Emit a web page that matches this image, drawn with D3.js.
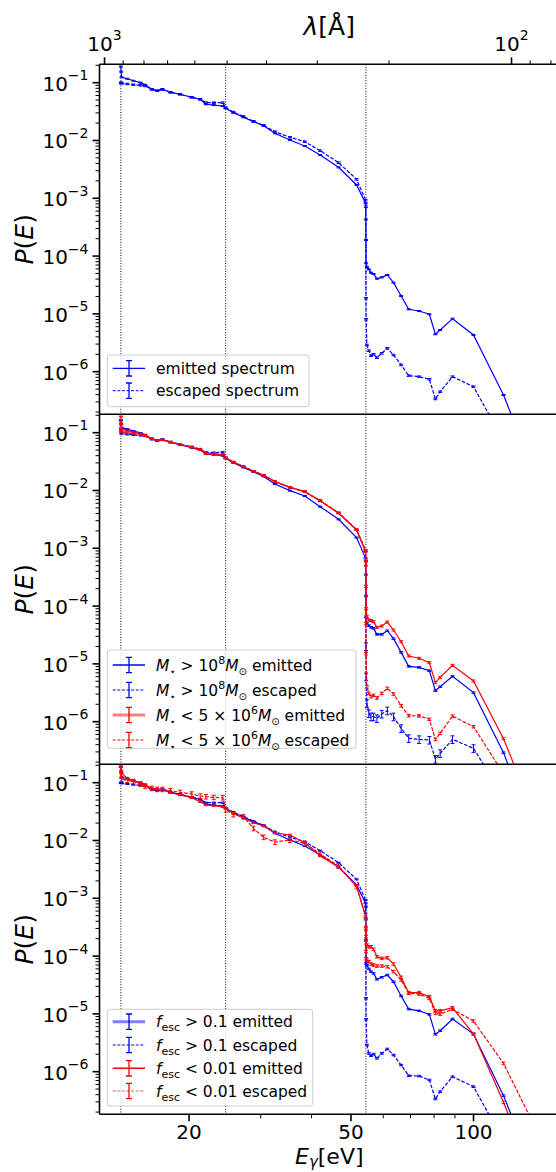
<!DOCTYPE html>
<html><head><meta charset="utf-8">
<script src="https://cdn.jsdelivr.net/npm/d3@7"></script>
<style>
html,body{margin:0;padding:0;background:#fff;}
svg{display:block;font-family:"DejaVu Sans",sans-serif;}
</style></head><body>
<svg id="fig" width="556" height="1172"></svg>
<script>
// Photon energy grid (eV), shared by every spectrum
const energies = [13.6, 13.62, 13.66, 14.1, 14.6, 15.2, 15.6, 16.2, 16.7, 17.2,
  18.0, 19.0, 20.3, 21.3, 22.0, 23.0, 24.2, 24.6, 25.7, 27.2,
  28.8, 30.5, 32.5, 35.4, 38.5, 42.0, 46.6, 51.6, 54.3, 54.38,
  54.42, 54.46, 54.7, 55.3, 56.0, 56.8, 57.9, 59.5, 61.4, 63.6,
  66.4, 69.3, 73.5, 77.9, 80.6, 82.8, 88.8, 100, 118.5, 140];

// Panel 1: all galaxies
const allEmitted = [0.19, 0.155, 0.124, 0.117, 0.108, 0.1, 0.092, 0.0767, 0.0726, 0.0767,
  0.0682, 0.063, 0.0559, 0.0516, 0.0423, 0.041, 0.0395, 0.036, 0.0303, 0.0252,
  0.0211, 0.018, 0.0133, 0.0102, 0.00803, 0.00561, 0.00343, 0.0017, 8.2e-4, 4.3e-4,
  1.9e-4, 7.5e-5, 6.5e-5, 5.9e-5, 5.16e-5, 4.9e-5, 4.06e-5, 4.29e-5, 4.71e-5, 3.47e-5,
  2.04e-5, 1.2e-5, 1.12e-5, 9.84e-6, 4.44e-6, 5.26e-6, 8.26e-6, 4.32e-6, 3.95e-7, 2e-8];
const allEscaped = [0.1, 0.0985, 0.0975, 0.095, 0.0923, 0.09, 0.0877, 0.0767, 0.0726, 0.0767,
  0.0682, 0.063, 0.0559, 0.0516, 0.0451, 0.0451, 0.0451, 0.037, 0.031, 0.026,
  0.0215, 0.0183, 0.0142, 0.01135, 0.00953, 0.00666, 0.00413, 0.00213, 9.3e-4, 7.15e-4,
  1.86e-5, 8.05e-6, 2.9e-6, 2.31e-6, 1.89e-6, 2.0e-6, 1.75e-6, 2.08e-6, 2.54e-6, 1.94e-6,
  1.31e-6, 8.54e-7, 8.2e-7, 7.4e-7, 3.37e-7, 4.5e-7, 8.2e-7, 5.5e-7, 6.4e-8, 1e-8];

// Panel 2: split by stellar mass
const massiveEmitted = [0.166, 0.14, 0.122, 0.115, 0.107, 0.099, 0.092, 0.078, 0.073, 0.076,
  0.068, 0.062, 0.055, 0.05, 0.043, 0.0415, 0.04, 0.036, 0.0303, 0.025,
  0.021, 0.0175, 0.01294, 0.00993, 0.00803, 0.00525, 0.00317, 0.00153, 6.7e-4, 3.5e-4,
  1.5e-4, 6.5e-5, 5.02e-5, 4.6e-5, 4.29e-5, 4.12e-5, 3.24e-5, 3.24e-5, 3.75e-5, 2.73e-5,
  1.58e-5, 9.06e-6, 8.7e-6, 7.62e-6, 3.44e-6, 4.03e-6, 6.08e-6, 3.18e-6, 2.91e-7, 1.3e-8];
const massiveEscaped = [0.11, 0.1, 0.097, 0.094, 0.092, 0.09, 0.088, 0.077, 0.073, 0.076,
  0.069, 0.063, 0.057, 0.052, 0.0455, 0.045, 0.046, 0.037, 0.031, 0.026,
  0.0215, 0.0183, 0.0142, 0.0113, 0.0095, 0.0066, 0.0041, 0.0021, 9.0e-4, 6.0e-4,
  2.0e-5, 6.0e-6, 2.08e-6, 1.39e-6, 1.22e-6, 1.22e-6, 1.14e-6, 1.36e-6, 1.55e-6, 1.22e-6,
  7.67e-7, 5.15e-7, 4.94e-7, 4.82e-7, 2.26e-7, 2.83e-7, 4.94e-7, 3.46e-7, 5e-8, 5e-9];
const dwarfEmitted = [0.19, 0.14, 0.115, 0.108, 0.102, 0.096, 0.09, 0.079, 0.074, 0.075,
  0.069, 0.063, 0.056, 0.051, 0.0435, 0.042, 0.041, 0.036, 0.031, 0.0258,
  0.0215, 0.0183, 0.01422, 0.01133, 0.00953, 0.00667, 0.00403, 0.00207, 8.74e-4, 5e-4,
  2.2e-4, 9e-5, 6.56e-5, 5.74e-5, 5.6e-5, 5.37e-5, 4.29e-5, 4.52e-5, 5.3e-5, 3.85e-5,
  2.42e-5, 1.37e-5, 1.25e-5, 1.05e-5, 4.73e-6, 5.85e-6, 9.44e-6, 5.06e-6, 5.08e-7, 2.8e-8];
const dwarfEscaped = [0.15, 0.12, 0.105, 0.1, 0.097, 0.093, 0.089, 0.079, 0.074, 0.075,
  0.069, 0.063, 0.056, 0.051, 0.044, 0.043, 0.042, 0.0365, 0.031, 0.026,
  0.0216, 0.0184, 0.0143, 0.0114, 0.0096, 0.0067, 0.0041, 0.0021, 9.3e-4, 6e-4,
  5e-5, 1.5e-5, 4.03e-6, 3.09e-6, 2.71e-6, 2.86e-6, 2.57e-6, 3.09e-6, 3.78e-6, 3.01e-6,
  1.89e-6, 1.27e-6, 1.26e-6, 1.1e-6, 4.94e-7, 6.28e-7, 1.25e-6, 8.19e-7, 1.25e-7, 1e-8];

// Panel 3: split by escape fraction
const leakyEmitted = [0.19, 0.155, 0.124, 0.117, 0.108, 0.1, 0.092, 0.0767, 0.0726, 0.0767,
  0.0682, 0.063, 0.0559, 0.0516, 0.0423, 0.041, 0.0395, 0.036, 0.0303, 0.0252,
  0.0211, 0.018, 0.0133, 0.0102, 0.00803, 0.00561, 0.00343, 0.0017, 8.2e-4, 4.3e-4,
  1.9e-4, 7.48e-5, 7.0e-5, 6.0e-5, 5.37e-5, 5.02e-5, 3.96e-5, 4.29e-5, 4.7e-5, 3.6e-5,
  2.04e-5, 1.21e-5, 1.13e-5, 9.8e-6, 4.43e-6, 5.12e-6, 8.15e-6, 4.48e-6, 3.85e-7, 2e-8];
const leakyEscaped = [0.1, 0.0985, 0.0975, 0.095, 0.0923, 0.09, 0.0877, 0.0767, 0.0726, 0.0767,
  0.0682, 0.063, 0.0559, 0.0516, 0.0451, 0.0451, 0.0451, 0.037, 0.031, 0.026,
  0.0215, 0.0183, 0.0142, 0.01135, 0.00953, 0.00666, 0.00413, 0.00213, 9.3e-4, 7.15e-4,
  1.86e-5, 8.05e-6, 2.89e-6, 2.07e-6, 1.89e-6, 2.02e-6, 1.7e-6, 2.07e-6, 2.47e-6, 1.94e-6,
  1.3e-6, 8.53e-7, 8.4e-7, 7.18e-7, 3.37e-7, 4.51e-7, 8.2e-7, 5.5e-7, 6.4e-8, 1e-8];
const tightEmitted = [0.189, 0.16, 0.145, 0.12, 0.108, 0.0975, 0.09, 0.0798, 0.077, 0.0747,
  0.0671, 0.0612, 0.055, 0.0469, 0.0411, 0.04, 0.0385, 0.036, 0.0295, 0.0242,
  0.0203, 0.0178, 0.0136, 0.01245, 0.00917, 0.0054, 0.00352, 0.00163, 4.8e-4, 3e-4,
  2.17e-4, 1.7e-4, 1.55e-4, 1.45e-4, 1.45e-4, 1.31e-4, 9.77e-5, 9.14e-5, 9.35e-5, 7.29e-5,
  4.29e-5, 2.33e-5, 2.33e-5, 1.99e-5, 1.13e-5, 1.13e-5, 1.28e-5, 4.48e-6, 2.95e-7, 1.5e-8];
const tightEscaped = [0.17, 0.13, 0.115, 0.11, 0.105, 0.095, 0.088, 0.0798, 0.0767, 0.0767,
  0.0727, 0.068, 0.0637, 0.0588, 0.0573, 0.0558, 0.055, 0.034, 0.028, 0.026,
  0.0162, 0.01135, 0.00941, 0.0102, 0.00893, 0.00584, 0.00362, 0.00159, 5e-4, 3e-4,
  1.2e-4, 9e-5, 8.55e-5, 8e-5, 7.29e-5, 7.0e-5, 6.73e-5, 6.73e-5, 6.56e-5, 5.37e-5,
  3.85e-5, 2.27e-5, 2.21e-5, 1.86e-5, 1.02e-5, 9.95e-6, 1.2e-5, 7.53e-6, 1.39e-6, 1.3e-7];

// Relative 1-sigma uncertainty of each spectrum: [below He II edge, above it]
const relErrAll = [[0.02, 0.02], [0.03, 0.03]];
const relErrMass = [[0.02, 0.03], [0.03, 0.15], [0.02, 0.04], [0.03, 0.05]];
const relErrFesc = [[0.02, 0.03], [0.02, 0.03], [0.03, 0.05], [0.09, 0.05]];

// Ionisation edges (eV): H I, He I, He II
const edges = [13.6, 24.6, 54.4];

// Axis ticks
const yMajorTicks = [1e-6, 1e-5, 1e-4, 1e-3, 1e-2, 1e-1];
const yTickExps = ["−6", "−5", "−4", "−3", "−2", "−1"];
const eMajorTicks = [20, 50, 100];
const eMinorTicks = [30, 40, 60, 70, 80, 90];
const lamMajorTicks = [1000, 100];
const lamTickExps = ["3", "2"];
const lamMinorTicks = [900, 800, 700, 600, 500, 400, 300, 200, 90, 80];
const hc = 12398.4; // eV * Angstrom

// ---------------- layout ----------------
const plotLeft = 99.5, plotRight = 559;
const panelTops = [64.3, 414.3, 764.3];
const panelH = 350;
const BLUE = "#0000ff", RED = "#ff0000";

const svg = d3.select("#fig");
const x = d3.scaleLog().domain([12.05, 162.2]).range([plotLeft, plotRight]);
const yFor = top => d3.scaleLog().domain([1.83e-7, 0.208]).range([top + panelH, top]);

// text with italic parts and sub/superscripts
function richText(sel, parts, baseSize) {
  let cur = 0;
  parts.forEach(p => {
    const ts = sel.append("tspan").text(p.t).attr("font-size", p.size || baseSize);
    if (p.it) ts.attr("font-style", "italic");
    let target = 0;
    if (p.sup) target = -p.sup;
    if (p.sub) target = p.sub;
    if (target !== cur) ts.attr("dy", target - cur);
    cur = target;
  });
  return sel;
}

const panels = [
  {
    series: [
      { v: allEmitted, color: BLUE, dashed: false, err: relErrAll[0] },
      { v: allEscaped, color: BLUE, dashed: true, err: relErrAll[1] }
    ],
    legend: {
      x: 107.3, y: 355, w: 201.7, h: 51.7, rows: [368.3, 390.7],
      items: [
        { line: BLUE, lw: 1.3, dash: null, bar: BLUE, parts: [{ t: "emitted spectrum" }] },
        { line: BLUE, lw: 1, dash: "3,1.6", bar: BLUE, parts: [{ t: "escaped spectrum" }] }
      ]
    }
  },
  {
    series: [
      { v: massiveEmitted, color: BLUE, dashed: false, err: relErrMass[0] },
      { v: massiveEscaped, color: BLUE, dashed: true, err: relErrMass[1] },
      { v: dwarfEmitted, color: RED, dashed: false, err: relErrMass[2] },
      { v: dwarfEscaped, color: RED, dashed: true, err: relErrMass[3] }
    ],
    legend: {
      x: 107.3, y: 650, w: 248.7, h: 98.3, rows: [665, 690, 715, 740],
      items: [
        { line: BLUE, lw: 1.3, dash: null, bar: BLUE, parts: [
          { t: "M", it: true }, { t: "⋆", sub: 4, size: 10 }, { t: " > 10" }, { t: "8", sup: 7, size: 11 },
          { t: "M", it: true }, { t: "⊙", sub: 4, size: 10 }, { t: " emitted" }] },
        { line: "#7f7fff", lw: 1.8, dash: "3,1.6", bar: BLUE, parts: [
          { t: "M", it: true }, { t: "⋆", sub: 4, size: 10 }, { t: " > 10" }, { t: "8", sup: 7, size: 11 },
          { t: "M", it: true }, { t: "⊙", sub: 4, size: 10 }, { t: " escaped" }] },
        { line: "#ff7f7f", lw: 3, dash: null, bar: RED, parts: [
          { t: "M", it: true }, { t: "⋆", sub: 4, size: 10 }, { t: " < 5 × 10" }, { t: "6", sup: 7, size: 11 },
          { t: "M", it: true }, { t: "⊙", sub: 4, size: 10 }, { t: " emitted" }] },
        { line: RED, lw: 1, dash: "3,1.6", bar: RED, parts: [
          { t: "M", it: true }, { t: "⋆", sub: 4, size: 10 }, { t: " < 5 × 10" }, { t: "6", sup: 7, size: 11 },
          { t: "M", it: true }, { t: "⊙", sub: 4, size: 10 }, { t: " escaped" }] }
      ]
    }
  },
  {
    series: [
      { v: leakyEmitted, color: BLUE, dashed: false, err: relErrFesc[0] },
      { v: leakyEscaped, color: BLUE, dashed: true, err: relErrFesc[1] },
      { v: tightEmitted, color: RED, dashed: false, err: relErrFesc[2] },
      { v: tightEscaped, color: RED, dashed: true, err: relErrFesc[3] }
    ],
    legend: {
      x: 107.3, y: 1009.3, w: 205.4, h: 96.7, rows: [1021.7, 1045, 1068.3, 1091],
      items: [
        { line: "#7f7fff", lw: 3, dash: null, bar: BLUE, parts: [
          { t: "f", it: true }, { t: "esc", sub: 4, size: 11 }, { t: " > 0.1 emitted" }] },
        { line: BLUE, lw: 1, dash: "3,1.6", bar: BLUE, parts: [
          { t: "f", it: true }, { t: "esc", sub: 4, size: 11 }, { t: " > 0.1 escaped" }] },
        { line: RED, lw: 1.5, dash: null, bar: RED, parts: [
          { t: "f", it: true }, { t: "esc", sub: 4, size: 11 }, { t: " < 0.01 emitted" }] },
        { line: "#ff5555", lw: 1, dash: "3,1.6", bar: RED, parts: [
          { t: "f", it: true }, { t: "esc", sub: 4, size: 11 }, { t: " < 0.01 escaped" }] }
      ]
    }
  }
];

panels.forEach((panel, pi) => {
  const top = panelTops[pi];
  const y = yFor(top);
  const g = svg.append("g");
  const clipId = "clip" + pi;
  svg.append("clipPath").attr("id", clipId).append("rect")
    .attr("x", plotLeft).attr("y", top).attr("width", plotRight - plotLeft).attr("height", panelH);
  const plot = g.append("g").attr("clip-path", `url(#${clipId})`);

  // ionisation edges
  edges.forEach(e => {
    plot.append("line").attr("x1", x(e)).attr("x2", x(e)).attr("y1", top).attr("y2", top + panelH)
      .attr("stroke", "#000").attr("stroke-width", 1).attr("stroke-dasharray", "1,1.65");
  });

  // spectra with error bars
  panel.series.forEach(s => {
    const pts = energies.map((e, i) => ({ e, v: s.v[i] }));
    const line = d3.line().x(d => x(d.e)).y(d => y(d.v));
    plot.append("path").attr("d", line(pts)).attr("fill", "none")
      .attr("stroke", s.color).attr("stroke-width", 1.2)
      .attr("stroke-dasharray", s.dashed ? "3.7,1.6" : null);
    const bars = plot.append("g").attr("stroke", s.color).attr("stroke-width", 1).attr("fill", "none");
    pts.forEach(d => {
      const rel = d.e < 54.4 ? s.err[0] : s.err[1];
      const cx = x(d.e), y1 = y(d.v * (1 + rel)), y2 = y(d.v * (1 - rel));
      bars.append("path").attr("d",
        `M${cx},${y1}V${y2}M${cx - 2},${y1}H${cx + 2}M${cx - 2},${y2}H${cx + 2}`);
    });
  });

  // y axis ticks and labels
  const ax = g.append("g");
  yMajorTicks.forEach((t, i) => {
    const ty = y(t);
    ax.append("line").attr("x1", plotLeft - 7).attr("x2", plotLeft).attr("y1", ty).attr("y2", ty)
      .attr("stroke", "#000").attr("stroke-width", 1.6);
    richText(ax.append("text").attr("x", 88.5).attr("y", ty + 8).attr("text-anchor", "end").attr("fill", "#000"),
      [{ t: "10" }, { t: yTickExps[i], sup: 10.5, size: 14 }], 20);
  });
  for (let p = -7; p <= -1; p++) {
    for (let k = 2; k <= 9; k++) {
      const t = k * Math.pow(10, p);
      if (t < 1.83e-7 || t > 0.208) continue;
      const ty = y(t);
      ax.append("line").attr("x1", plotLeft - 4).attr("x2", plotLeft).attr("y1", ty).attr("y2", ty)
        .attr("stroke", "#000").attr("stroke-width", 1);
    }
  }
  // y label
  richText(ax.append("text").attr("text-anchor", "middle")
    .attr("transform", `translate(33,${top + panelH / 2}) rotate(-90)`),
    [{ t: "P", it: true }, { t: "(" }, { t: "E", it: true }, { t: ")" }], 25);

  // legend
  const L = panel.legend;
  const lg = g.append("g");
  lg.append("rect").attr("x", L.x).attr("y", L.y).attr("width", L.w).attr("height", L.h)
    .attr("rx", 3).attr("fill", "#fff").attr("fill-opacity", 0.8)
    .attr("stroke", "#cccccc").attr("stroke-width", 1);
  L.items.forEach((it, i) => {
    const ry = L.rows[i];
    lg.append("line").attr("x1", 112.7).attr("x2", 145).attr("y1", ry).attr("y2", ry)
      .attr("stroke", it.line).attr("stroke-width", it.lw).attr("stroke-dasharray", it.dash);
    lg.append("path").attr("d", `M129,${ry - 7.7}V${ry + 7.7}M126,${ry - 7.7}H132M126,${ry + 7.7}H132`)
      .attr("stroke", it.bar).attr("stroke-width", 1.3).attr("fill", "none");
    richText(lg.append("text").attr("x", 156).attr("y", ry + 5.6).attr("fill", "#000"), it.parts, 15.5);
  });
});

// frame
const frame = svg.append("g").attr("stroke", "#000").attr("stroke-width", 1.6);
frame.append("line").attr("x1", plotLeft).attr("x2", plotLeft).attr("y1", panelTops[0]).attr("y2", panelTops[2] + panelH);
[panelTops[0], panelTops[1], panelTops[2], panelTops[2] + panelH].forEach(yy => {
  frame.append("line").attr("x1", plotLeft).attr("x2", plotRight).attr("y1", yy).attr("y2", yy);
});

// bottom energy axis
const bottom = panelTops[2] + panelH;
const bx = svg.append("g");
eMajorTicks.forEach(t => {
  bx.append("line").attr("x1", x(t)).attr("x2", x(t)).attr("y1", bottom).attr("y2", bottom + 7)
    .attr("stroke", "#000").attr("stroke-width", 1.6);
  bx.append("text").attr("x", x(t)).attr("y", bottom + 24.2).attr("text-anchor", "middle")
    .attr("font-size", 20).text(t);
});
eMinorTicks.forEach(t => {
  bx.append("line").attr("x1", x(t)).attr("x2", x(t)).attr("y1", bottom).attr("y2", bottom + 4)
    .attr("stroke", "#000").attr("stroke-width", 1);
});
richText(bx.append("text").attr("x", (plotLeft + plotRight) / 2).attr("y", 1164).attr("text-anchor", "middle"),
  [{ t: "E", it: true }, { t: "γ", it: true, sub: 3, size: 15 }, { t: "[eV]" }], 22);

// top wavelength axis
const topY = panelTops[0];
const tx = svg.append("g");
lamMajorTicks.forEach((l, i) => {
  const px = x(hc / l);
  tx.append("line").attr("x1", px).attr("x2", px).attr("y1", topY).attr("y2", topY - 7)
    .attr("stroke", "#000").attr("stroke-width", 1.6);
  richText(tx.append("text").attr("x", px).attr("y", 50.5).attr("text-anchor", "middle"),
    [{ t: "10" }, { t: lamTickExps[i], sup: 10.5, size: 14 }], 20);
});
lamMinorTicks.forEach(l => {
  const px = x(hc / l);
  tx.append("line").attr("x1", px).attr("x2", px).attr("y1", topY).attr("y2", topY - 4)
    .attr("stroke", "#000").attr("stroke-width", 1);
});
richText(tx.append("text").attr("x", (plotLeft + plotRight) / 2).attr("y", 35).attr("text-anchor", "middle"),
  [{ t: "λ", it: true }, { t: "[Å]" }], 25);
</script>
</body></html>
